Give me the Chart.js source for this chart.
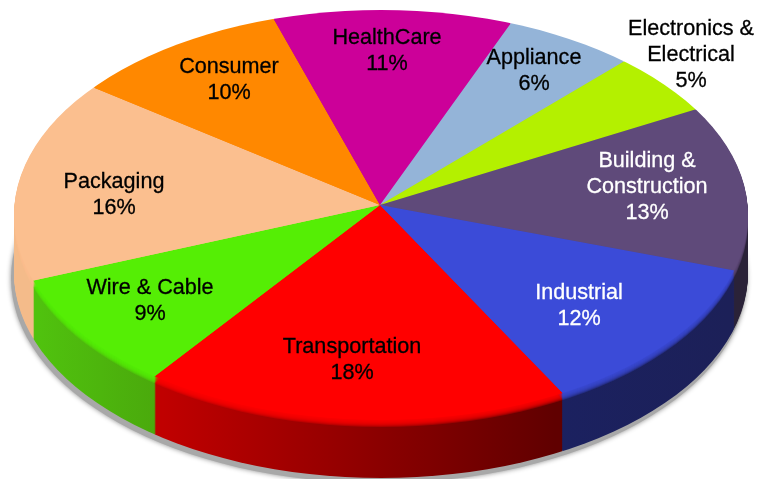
<!DOCTYPE html>
<html>
<head>
<meta charset="utf-8">
<title>Plastics by end use</title>
<script src="https://cdn.jsdelivr.net/npm/chart.js@4"></script>
<style>
  html, body { margin: 0; padding: 0; background: #fff; overflow: hidden; }
  canvas { display: block; }
</style>
</head>
<body>
<canvas id="myChart" width="757" height="479"></canvas>
<script>
var categories = ['Transportation', 'Wire & Cable', 'Packaging', 'Consumer', 'HealthCare', 'Appliance', 'Electronics & Electrical', 'Building & Construction', 'Industrial'];
var shares = [18, 9, 16, 10, 11, 6, 5, 13, 12];
var labelLines = [
  ['Transportation', '18%'], ['Wire & Cable', '9%'], ['Packaging', '16%'], ['Consumer', '10%'], ['HealthCare', '11%'],
  ['Appliance', '6%'], ['Electronics &', 'Electrical', '5%'], ['Building &', 'Construction', '13%'], ['Industrial', '12%']
];
var faceColors = ['#ff0000', '#55ee05', '#fbbf8f', '#ff8800', '#cc0099', '#94b4d8', '#b4f000', '#5f4a7a', '#3b4bd8'];
// left and right colour of each slice's side wall
var sideColors = [
  ['#c00000', '#600000'], ['#50c20e', '#4aa80c'], ['#f4bb8a', '#f4bb8a'], ['#c06600', '#c06600'], ['#8a0068', '#8a0068'],
  ['#6a84a0', '#6a84a0'], ['#86b000', '#86b000'], ['#2f2640', '#2a2238'], ['#1b2160', '#1c2058']
];
var labelColors = ['#000', '#000', '#000', '#000', '#000', '#000', '#000', '#fff', '#fff'];
var labelSpots = [[352, 347], [150, 288], [114, 182], [229, 67], [387, 38], [534, 58], [691, 29], [647, 161], [579, 293]];

// the face is an ellipse, the apex of the slices sits a little above its middle
var rim = { x: 381, y: 215, rx: 367, ry: 205 };
var apex = { x: 380, y: 205 };
var depth = 58;
var bevel = 7;
var squash = rim.ry / rim.rx;

function enterFace(ctx, arc, k) {
  ctx.save();
  ctx.beginPath();
  ctx.ellipse(rim.x, rim.y + k, rim.rx, rim.ry, 0, 0, Math.PI * 2);
  ctx.clip();
  ctx.translate(apex.x, apex.y + k);
  ctx.scale(1, squash);
  ctx.translate(-arc.x, -arc.y);
}

function sideFill(ctx, arc, i) {
  var a = arc.x + rim.rx * Math.cos(arc.startAngle);
  var b = arc.x + rim.rx * Math.cos(arc.endAngle);
  var g = ctx.createLinearGradient(Math.min(a, b), 0, Math.max(a, b), 0);
  g.addColorStop(0, sideColors[i][0]);
  g.addColorStop(1, sideColors[i][1]);
  return g;
}

function drawLayer(ctx, arcs, k, fills) {
  enterFace(ctx, arcs[0], k);
  arcs.forEach(function(arc, i) {
    var saved = arc.options;
    var opts = Object.create(saved);
    opts.backgroundColor = fills[i];
    arc.options = opts;
    arc.draw(ctx);
    arc.options = saved;
  });
  ctx.restore();
}

var pie3d = {
  id: 'pie3d',
  beforeDatasetsDraw: function(chart) {
    var ctx = chart.ctx;
    var arcs = chart.getDatasetMeta(0).data;

    // drop shadow under the disc
    ctx.save();
    ctx.fillStyle = '#a8a8a8';
    ctx.shadowColor = 'rgba(0,0,0,0.45)';
    ctx.shadowBlur = 5;
    ctx.beginPath();
    ctx.ellipse(rim.x - 2, rim.y + depth + 5, rim.rx + 1, rim.ry, 0, 0, Math.PI * 2);
    ctx.fill();
    ctx.restore();

    var walls = arcs.map(function(arc, i) { return sideFill(ctx, arc, i); });
    for (var k = depth; k >= 1; k--) {
      drawLayer(ctx, arcs, k, walls);
    }
    // soft edge where the face rolls over into the wall
    ctx.save();
    for (var b = bevel; b >= 1; b--) {
      ctx.globalAlpha = 0.32;
      drawLayer(ctx, arcs, b, faceColors);
    }
    ctx.restore();

    enterFace(ctx, arcs[0], 0);
  },
  afterDatasetsDraw: function(chart) {
    var ctx = chart.ctx;
    ctx.restore();

    ctx.save();
    ctx.font = '21.6px "Liberation Sans"';
    ctx.textAlign = 'center';
    ctx.textBaseline = 'middle';
    ctx.lineWidth = 0.3;
    labelLines.forEach(function(lines, i) {
      ctx.fillStyle = labelColors[i];
      ctx.strokeStyle = labelColors[i];
      lines.forEach(function(line, n) {
        ctx.fillText(line, labelSpots[i][0], labelSpots[i][1] + n * 26);
        ctx.strokeText(line, labelSpots[i][0], labelSpots[i][1] + n * 26);
      });
    });
    ctx.restore();
  }
};

var ctx = document.getElementById('myChart').getContext('2d');
var myChart = new Chart(ctx, {
  type: 'pie',
  data: {
    labels: categories,
    datasets: [{
      data: shares,
      backgroundColor: faceColors,
      borderWidth: 0,
      clip: false
    }]
  },
  options: {
    responsive: false,
    animation: false,
    rotation: 151.5,
    radius: 440,
    events: [],
    plugins: {
      legend: { display: false },
      title: { display: false },
      tooltip: { enabled: false }
    }
  },
  plugins: [pie3d]
});
</script>
</body>
</html>
